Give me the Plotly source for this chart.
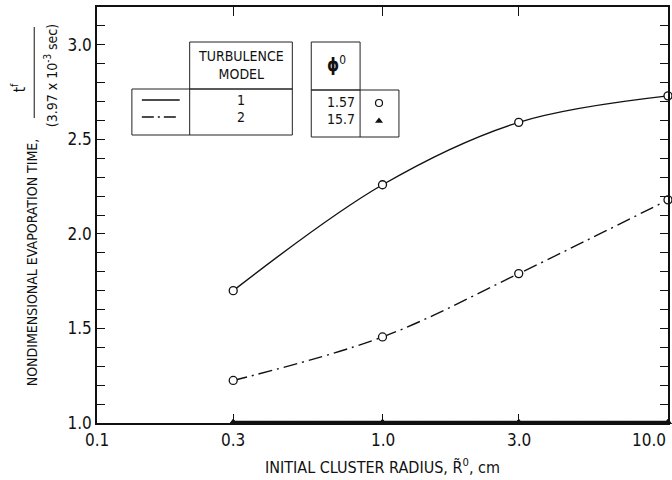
import numpy as np
import plotly.graph_objects as go

# ---- data -------------------------------------------------------------
radius = [0.3, 1.0, 3.0, 10.0]                 # initial cluster radius, cm
model1_phi157 = [1.70, 2.26, 2.59, 2.73]        # turbulence model 1, phi0 = 1.57
model2_phi157 = [1.225, 1.455, 1.79, 2.18]      # turbulence model 2, phi0 = 1.57
model1_phi157b = [1.004, 1.004, 1.004, 1.004]   # turbulence model 1, phi0 = 15.7
model2_phi157b = [1.004, 1.004, 1.004, 1.004]   # turbulence model 2, phi0 = 15.7

x_tick_vals = [0.1, 0.3, 1.0, 3.0, 10.0]
x_tick_text = ["0.1", "0.3", "1.0", "3.0", "10.0"]
y_tick_vals = [1.0, 1.5, 2.0, 2.5, 3.0]
y_tick_text = ["1.0", "1.5", "2.0", "2.5", "3.0"]

# ---- layout geometry (pixels) ----------------------------------------
W, H = 672, 480
L, R, T, B = 97, 670, 7, 423
FONT = "Liberation Sans Narrow, DejaVu Sans Condensed, Arial Narrow, sans-serif"
INK = "#111111"
DASHDOT = "14px,5px,2px,5px"


def pxx(px):
    return (px - L) / (R - L)


def pxy(py):
    return (B - py) / (B - T)


fig = go.Figure()

circle = dict(symbol="circle-open", size=8, color=INK, line=dict(width=1.3, color=INK))
tri = dict(symbol="triangle-up", size=7, color=INK)

fig.add_trace(go.Scatter(x=radius, y=model1_phi157b, mode="lines+markers",
                         line=dict(color=INK, width=3), marker=tri, cliponaxis=False))
fig.add_trace(go.Scatter(x=radius, y=model2_phi157b, mode="lines+markers",
                         line=dict(color=INK, width=2, dash=DASHDOT), marker=tri, cliponaxis=False))
fig.add_trace(go.Scatter(x=radius, y=model1_phi157, mode="lines+markers",
                         line=dict(color=INK, width=1.4, shape="spline"),
                         marker=dict(symbol="circle", size=8, color="white",
                                     line=dict(width=1.3, color=INK)),
                         cliponaxis=False))
fig.add_trace(go.Scatter(x=radius, y=model2_phi157, mode="lines+markers",
                         line=dict(color=INK, width=1.4, shape="spline", dash=DASHDOT),
                         marker=dict(symbol="circle", size=8, color="white",
                                     line=dict(width=1.3, color=INK)),
                         cliponaxis=False))

# ---- key tables (drawn on a pixel-space overlay axis) ----------------
box = dict(color="#222222", width=1)
shapes = []
for x0, y0, x1, y1 in [(190, 42, 293, 89), (132, 89, 293, 135),
                       (312, 42, 361, 90), (312, 90, 400, 137)]:
    shapes.append(dict(type="rect", xref="x2", yref="y2", x0=x0, y0=y0, x1=x1, y1=y1,
                       line=box))
for x0, y0, x1, y1 in [(190, 89, 190, 135), (361, 90, 361, 137)]:
    shapes.append(dict(type="line", xref="x2", yref="y2", x0=x0, y0=y0, x1=x1, y1=y1,
                       line=box))

fig.add_trace(go.Scatter(x=[142, 180], y=[100, 100], xaxis="x2", yaxis="y2",
                         mode="lines", line=dict(color=INK, width=1.5)))
fig.add_trace(go.Scatter(x=[142, 180], y=[117, 117], xaxis="x2", yaxis="y2",
                         mode="lines", line=dict(color=INK, width=1.5, dash="12px,4px,2px,4px")))
fig.add_trace(go.Scatter(x=[380], y=[103], xaxis="x2", yaxis="y2", mode="markers",
                         marker=dict(symbol="circle-open", size=7, color=INK,
                                     line=dict(width=1.2))))
fig.add_trace(go.Scatter(x=[380], y=[121], xaxis="x2", yaxis="y2", mode="markers",
                         marker=dict(symbol="triangle-up", size=7, color=INK)))

# fraction bar of the y-axis label
shapes.append(dict(type="line", xref="paper", yref="paper",
                   x0=pxx(34), x1=pxx(34), y0=pxy(27), y1=pxy(118),
                   line=dict(color=INK, width=1)))

ann = []


def text(px, py, s, size=14, angle=0, xanchor="center", yanchor="middle"):
    ann.append(dict(xref="paper", yref="paper", x=pxx(px), y=pxy(py), text=s,
                    showarrow=False, textangle=angle, xanchor=xanchor, yanchor=yanchor,
                    font=dict(family=FONT, size=size, color=INK)))


text(242, 65, "TURBULENCE<br>MODEL", size=14)
text(242, 100, "1", size=14)
text(242, 117, "2", size=14)
text(337, 64, "<b>ϕ</b><sup>0</sup>", size=17)
text(358, 102, "1.57", size=14, xanchor="right")
text(358, 119, "15.7", size=14, xanchor="right")

# axis titles
text(383, 466, "INITIAL CLUSTER RADIUS, R̃<sup>0</sup>, cm", size=16)
text(32, 262, "NONDIMENSIONAL EVAPORATION TIME,", size=14, angle=-90)
text(18, 88, "t<sup>f</sup>", size=15, angle=-90)
text(51, 76, "(3.97 x 10<sup>-3</sup> sec)", size=14, angle=-90)

# x tick labels
for v, s in zip(x_tick_vals, x_tick_text):
    xa = "right" if v == x_tick_vals[-1] else "center"
    ann.append(dict(xref="x", yref="paper", x=np.log10(v), y=0, yshift=-5,
                    text=s, showarrow=False, xanchor=xa, yanchor="top",
                    font=dict(family=FONT, size=17, color=INK)))

fig.update_layout(
    width=W, height=H,
    margin=dict(l=L, r=W - R, t=T, b=H - B, pad=0),
    paper_bgcolor="white", plot_bgcolor="white",
    showlegend=False,
    shapes=shapes, annotations=ann,
    xaxis=dict(type="log", range=[-1, 1], tickvals=x_tick_vals, showticklabels=False,
               ticks="inside", ticklen=9, tickcolor=INK, tickwidth=1,
               showline=True, linecolor=INK, linewidth=1.5, mirror="ticks",
               showgrid=False, zeroline=False),
    yaxis=dict(range=[1.0, 3.2], tickvals=y_tick_vals, ticktext=y_tick_text,
               ticks="inside", ticklen=8, tickcolor=INK, tickwidth=1,
               minor=dict(dtick=0.1, ticks="inside", ticklen=8, tickcolor=INK, showgrid=False),
               showline=True, linecolor=INK, linewidth=1.5, mirror="ticks",
               showgrid=False, zeroline=False,
               tickfont=dict(family=FONT, size=17, color=INK)),
    xaxis2=dict(overlaying="x", range=[L, R], visible=False),
    yaxis2=dict(overlaying="y", range=[B, T], visible=False),
)

fig.write_html("out.html")
